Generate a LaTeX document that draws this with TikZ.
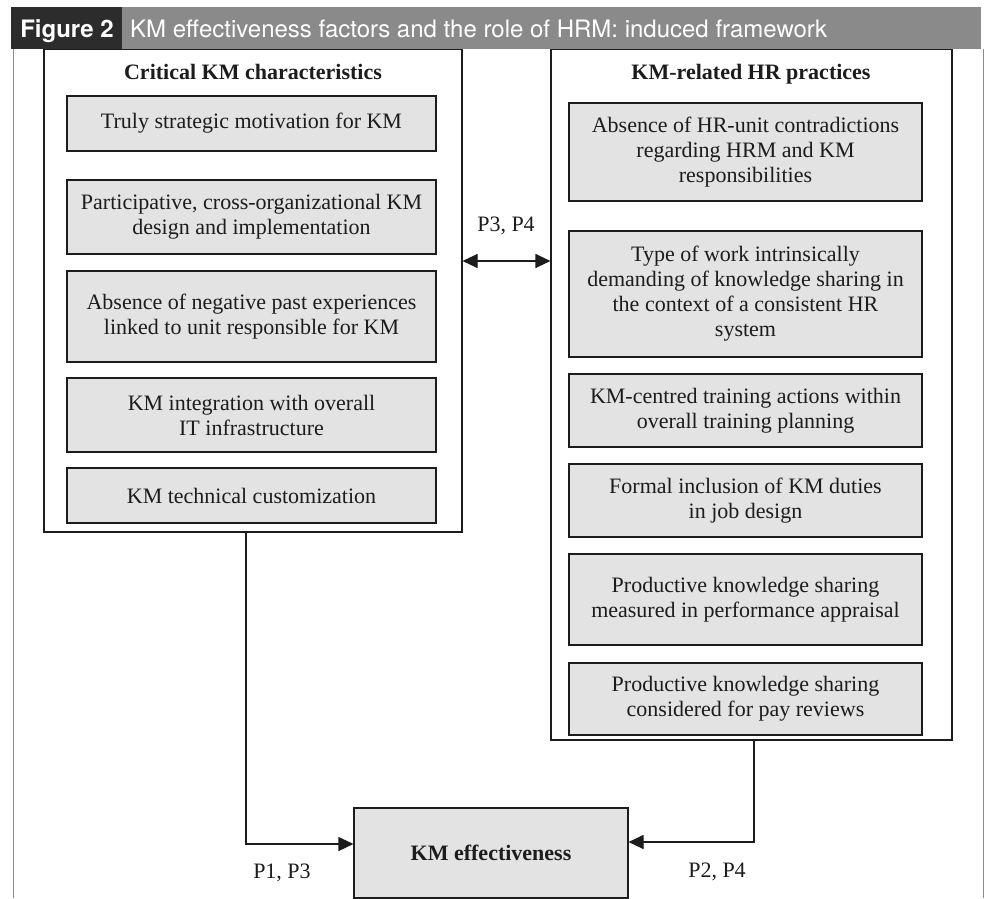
\documentclass[tikz,border=0pt]{standalone}
\usepackage{fontspec}
\setmainfont{Liberation Serif}
\newfontfamily\headfont{TeX Gyre Heros}
\usetikzlibrary{arrows.meta}
\definecolor{boxfill}{HTML}{E3E3E3}
\definecolor{hdrdark}{HTML}{2C2C2C}
\definecolor{hdrgray}{HTML}{8A8A8A}
\definecolor{ink}{HTML}{1C1C1C}
\definecolor{framegray}{HTML}{8C8C8C}
\begin{document}
\begin{tikzpicture}[x=1pt,y=-1pt,
  every node/.style={font=\fontsize{22}{25}\selectfont, text=ink},
  panel/.style={draw=ink, line width=1.1pt, fill=white, inner sep=0pt},
  kmbox/.style={draw=ink, line width=1.1pt, fill=boxfill, align=center, inner sep=0pt},
  ttl/.style={font=\fontsize{22}{25}\selectfont\bfseries, inner sep=0pt},
  lbl/.style={inner sep=0pt},
  hdr/.style={font=\headfont\fontsize{24}{28}\selectfont, text=white, inner sep=0pt},
  arr/.style={draw=ink, line width=1.1pt, -{Triangle[length=15pt,width=14pt]}},
  dbl/.style={draw=ink, line width=1.1pt, {Triangle[length=15pt,width=14pt]}-{Triangle[length=15pt,width=14pt]}},
  framel/.style={draw=framegray, line width=1pt}
]
\useasboundingbox (0,0) rectangle (988,898);
\fill[white] (0,0) rectangle (988,898);

% outer frame lines
\draw[framel] (13,49) -- (13,898);
\draw[framel] (983,49) -- (983,898);

% panels
\node[panel, minimum width=418pt, minimum height=483pt] (lp) at (253,290.5) {};
\node[panel, minimum width=401pt, minimum height=691pt] (rp) at (751.5,394.5) {};

% header
\fill[hdrdark] (11,7) rectangle (122,49);
\fill[hdrgray] (122,7) rectangle (981,49);
\node[hdr, anchor=base] (fig) at (67,37) {\bfseries Figure 2};
\node[hdr, anchor=base west] (htitle) at (130,37) {KM effectiveness factors and the role of HRM: induced framework};

% panel titles
\node[ttl, anchor=base] (lt) at (253,79) {Critical KM characteristics};
\node[ttl, anchor=base] (rt) at (751,79) {KM-related HR practices};

% left boxes
\node[kmbox, minimum width=369pt, minimum height=55pt] (l1) at (251.5,123.5) {Truly strategic motivation for KM};
\node[kmbox, minimum width=369pt, minimum height=74pt] (l2) at (251.5,217) {Participative, cross-organizational KM\\design and implementation};
\node[kmbox, minimum width=369pt, minimum height=91pt] (l3) at (251.5,316.5) {Absence of negative past experiences\\linked to unit responsible for KM};
\node[kmbox, minimum width=369pt, minimum height=74pt] (l4) at (251.5,415) {KM integration with overall\\IT infrastructure};
\node[kmbox, minimum width=369pt, minimum height=55pt] (l5) at (251.5,495.5) {KM technical customization};

% right boxes
\node[kmbox, minimum width=353pt, minimum height=98pt] (r1) at (745.5,152) {Absence of HR-unit contradictions\\regarding HRM and KM\\responsibilities};
\node[kmbox, minimum width=353pt, minimum height=126pt] (r2) at (745.5,294) {Type of work intrinsically\\demanding of knowledge sharing in\\the context of a consistent HR\\system};
\node[kmbox, minimum width=353pt, minimum height=73pt] (r3) at (745.5,410.5) {KM-centred training actions within\\overall training planning};
\node[kmbox, minimum width=353pt, minimum height=73pt] (r4) at (745.5,500.5) {Formal inclusion of KM duties\\in job design};
\node[kmbox, minimum width=353pt, minimum height=91pt] (r5) at (745.5,599.5) {Productive knowledge sharing\\measured in performance appraisal};
\node[kmbox, minimum width=353pt, minimum height=72pt] (r6) at (745.5,699) {Productive knowledge sharing\\considered for pay reviews};

% outcome
\node[kmbox, font=\fontsize{22}{25}\selectfont\bfseries, minimum width=274pt, minimum height=90pt] (km) at (491,853) {KM effectiveness};

% double arrow between panels
\coordinate (ya) at (500,261);
\draw[dbl] (lp.east |- ya) -- (rp.west |- ya);
\node[lbl, anchor=base] (p34) at (506,231) {P3, P4};

% connectors to outcome
\coordinate (cl) at (246,844);
\draw[arr] (cl |- lp.south) -- (cl) -- (cl -| km.west);
\coordinate (cr) at (754,842);
\draw[arr] (cr |- rp.south) -- (cr) -- (cr -| km.east);
\node[lbl, anchor=base] (p13) at (282,878) {P1, P3};
\node[lbl, anchor=base] (p24) at (717,877) {P2, P4};
\end{tikzpicture}
\end{document}
